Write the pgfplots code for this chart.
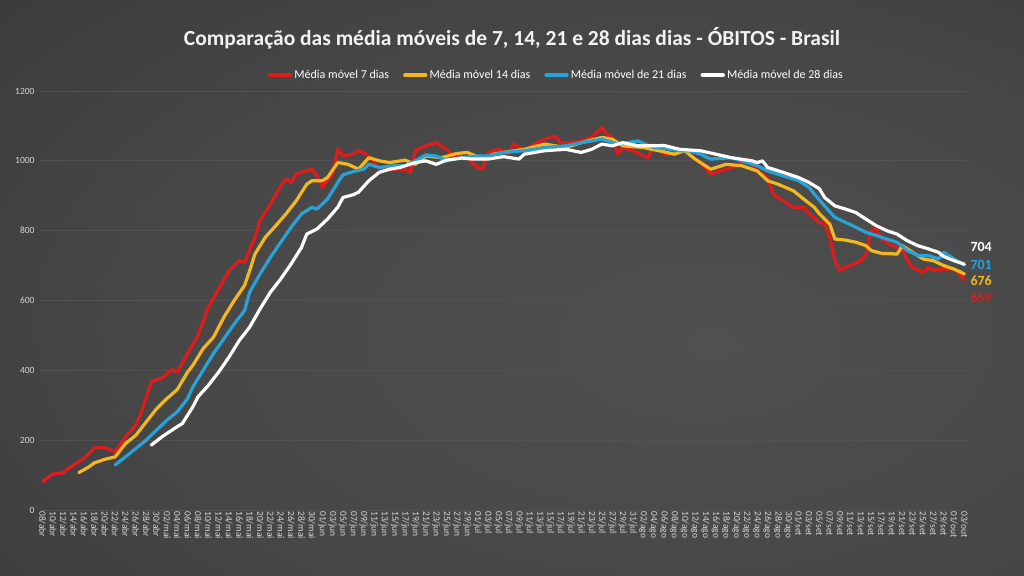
\documentclass[border=0pt]{standalone}
\usepackage{pgfplots}
\pgfplotsset{compat=1.18}
\usepackage{fontspec}
\setmainfont{Carlito}
\definecolor{cred}{HTML}{E01B1B}
\definecolor{cgold}{HTML}{F4B81E}
\definecolor{cblue}{HTML}{27A3D8}
\definecolor{gridc}{HTML}{525252}
\definecolor{tickc}{HTML}{D4D4D4}
\definecolor{bgA}{HTML}{505050}
\definecolor{bgB}{HTML}{474747}
\definecolor{bgC}{HTML}{353535}
\definecolor{bgD}{HTML}{2B2B2B}
\definecolor{bgE}{HTML}{262626}
\pgfdeclareradialshading{bgshade}{\pgfpoint{10bp}{-5bp}}{color(0bp)=(bgA); color(25bp)=(bgB); color(50bp)=(bgC); color(65bp)=(bgD); color(85bp)=(bgE)}

\pgfplotstableread{
d v
0 81
2 103
4 107
5 119
7 138
8 148
10 178
12 178
14 167
16 209
18 243
19 276
21 367
23 378
25 402
26 395
28 448
30 500
32 581
34 633
36 686
38 714
39 709
41 781
42 829
44 876
46 929
47 948
48 938
49 962
50 967
52 976
53 957
54 924
56 962
57 1033
58 1014
60 1019
61 1030
63 1014
65 976
67 976
70 976
71 967
72 1029
74 1043
76 1052
78 1033
79 1019
80 1014
82 1009
84 981
85 976
86 1024
88 1033
90 1021
91 1048
93 1029
95 1048
97 1062
99 1071
100 1052
102 1052
104 1057
106 1067
108 1095
109 1076
110 1067
111 1019
112 1038
114 1029
116 1014
117 1009
118 1048
120 1019
122 1019
124 1029
126 1005
127 995
129 962
130 967
132 976
134 986
136 1005
138 971
140 952
141 905
143 886
145 867
147 867
148 848
150 824
151 819
152 781
153 714
154 686
155 695
156 700
158 714
159 733
160 800
161 805
162 776
164 757
166 748
167 714
168 695
170 681
171 695
172 686
174 690
176 690
177 676
178 659
}\redtab

\pgfplotstableread{
d v
7 107
9 124
10 135
12 145
14 152
16 190
18 214
20 252
22 290
24 319
26 345
28 395
29 414
31 462
33 495
35 552
37 600
39 643
40 686
41 733
43 781
45 814
47 848
49 886
51 933
52 943
54 943
55 952
57 995
59 990
61 976
63 1009
65 1000
67 995
70 1002
72 990
74 1014
77 1009
80 1021
82 1024
85 1005
87 1019
89 1024
93 1033
97 1048
101 1038
104 1052
108 1067
110 1062
112 1043
116 1038
119 1029
122 1019
124 1029
126 1005
129 976
132 990
135 986
138 971
140 943
142 933
145 914
147 890
149 867
150 848
152 819
153 776
155 773
157 767
159 757
160 743
162 735
165 733
166 757
168 738
170 719
172 714
174 700
176 690
178 676
}\goldtab

\pgfplotstableread{
d v
14 129
16 152
18 176
20 200
22 229
24 257
26 281
28 319
29 352
31 400
33 448
35 490
37 533
39 571
40 624
42 676
44 724
46 767
48 810
50 848
52 867
53 862
55 890
57 938
58 960
60 969
62 976
63 990
65 981
68 986
70 986
72 1000
74 1017
76 1014
78 1000
81 1009
84 1014
86 1014
89 1024
93 1029
97 1038
101 1043
104 1052
108 1062
111 1048
115 1057
118 1038
120 1036
123 1029
125 1029
127 1019
129 1005
133 1009
135 1000
138 986
140 971
143 957
146 943
148 924
149 905
151 871
153 838
155 824
157 810
159 795
161 786
163 776
165 767
167 743
169 729
171 729
173 719
174 738
176 719
178 701
}\bluetab

\pgfplotstableread{
d v
21 186
23 209
25 229
27 248
29 295
30 324
32 357
34 395
36 438
38 486
40 524
42 576
44 624
46 662
48 705
50 752
51 790
53 805
55 833
57 867
58 895
60 903
61 910
63 943
65 967
67 976
69 981
72 995
74 1000
76 990
78 1002
81 1008
83 1005
86 1005
89 1012
92 1005
93 1019
97 1029
101 1033
104 1024
106 1033
108 1048
110 1043
112 1052
115 1043
118 1043
120 1044
123 1033
127 1029
130 1019
133 1009
137 1000
138 995
139 1000
140 981
143 967
146 952
148 938
150 920
151 895
153 871
155 862
157 852
159 833
161 814
163 800
165 790
167 771
169 757
171 748
173 738
174 726
176 714
178 704
}\whitetab

\begin{document}
\begin{tikzpicture}
\shade[shading=bgshade] (0pt,0pt) rectangle (1024pt,575pt);
\node[font=\bfseries\fontsize{21.5}{24}\selectfont, text=white!95!black] at (512pt,537pt) {Comparação das média móveis de 7, 14, 21 e 28 dias dias - ÓBITOS - Brasil};
\begin{axis}[
  at={(40pt,65pt)}, anchor=south west, scale only axis,
  width=927pt, height=419pt,
  xmin=-0.5, xmax=178.5, ymin=0, ymax=1200,
  clip=false,
  axis line style={draw=none},
  tick style={draw=none},
  major tick length=0pt,
  ytick={0,200,...,1200},
  ymajorgrids,
  grid style={draw=gridc, line width=0.8pt},
  /pgf/number format/assume math mode=true,
  /pgf/number format/1000 sep={},
  yticklabel style={font=\fontsize{9.5}{10}\selectfont, text=tickc, xshift=-2pt},
  xtick={0,2,...,178},
  xticklabels={08/abr,10/abr,12/abr,14/abr,16/abr,18/abr,20/abr,22/abr,24/abr,26/abr,28/abr,30/abr,
    02/mai,04/mai,06/mai,08/mai,10/mai,12/mai,14/mai,16/mai,18/mai,20/mai,22/mai,24/mai,26/mai,28/mai,30/mai,
    01/jun,03/jun,05/jun,07/jun,09/jun,11/jun,13/jun,15/jun,17/jun,19/jun,21/jun,23/jun,25/jun,27/jun,29/jun,
    01/jul,03/jul,05/jul,07/jul,09/jul,11/jul,13/jul,15/jul,17/jul,19/jul,21/jul,23/jul,25/jul,27/jul,29/jul,31/jul,
    02/ago,04/ago,06/ago,08/ago,10/ago,12/ago,14/ago,16/ago,18/ago,20/ago,22/ago,24/ago,26/ago,28/ago,30/ago,
    01/set,03/set,05/set,07/set,09/set,11/set,13/set,15/set,17/set,19/set,21/set,23/set,25/set,27/set,29/set,
    01/out,03/out},
  xticklabel style={font=\fontsize{9.5}{10}\selectfont, text=tickc, rotate=-90, anchor=west, inner sep=1pt},
  legend style={at={(0.557,1.038)}, anchor=center, draw=none, fill=none, text=white,
    font=\fontsize{12}{13}\selectfont, legend columns=4,
    /tikz/every even column/.append style={column sep=12pt}},
  legend image code/.code={\draw[#1, line width=4.5pt] (0pt,0pt) -- (20pt,0pt);},
  every axis plot/.append style={line width=3.2pt, line join=round, line cap=round},
]
\addplot[cred] table[x=d,y=v] {\redtab};
\addlegendentry{Média móvel 7 dias}
\addplot[cgold] table[x=d,y=v] {\goldtab};
\addlegendentry{Média móvel 14 dias}
\addplot[cblue] table[x=d,y=v] {\bluetab};
\addlegendentry{Média móvel de 21 dias}
\addplot[white] table[x=d,y=v] {\whitetab};
\addlegendentry{Média móvel de 28 dias}
\node[anchor=west, font=\bfseries\fontsize{14}{16}\selectfont, text=white] at (axis cs:178.5,753) {704};
\node[anchor=west, font=\bfseries\fontsize{14}{16}\selectfont, text=cblue] at (axis cs:178.5,702) {701};
\node[anchor=west, font=\bfseries\fontsize{14}{16}\selectfont, text=cgold] at (axis cs:178.5,656) {676};
\node[anchor=west, font=\bfseries\fontsize{14}{16}\selectfont, text=cred] at (axis cs:178.5,607) {659};
\end{axis}
\end{tikzpicture}
\end{document}
